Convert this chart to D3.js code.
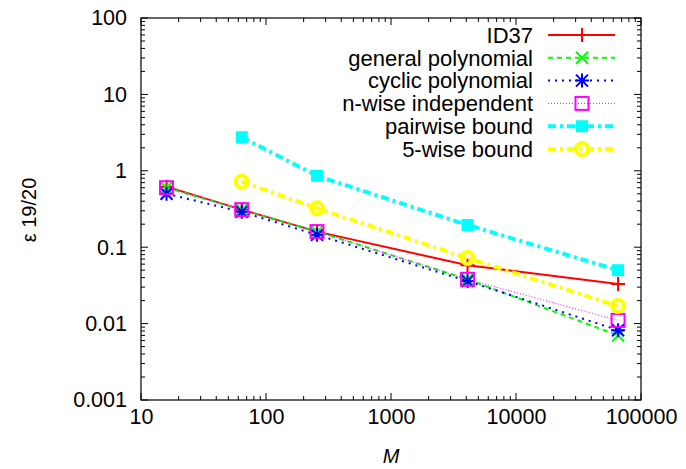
<!DOCTYPE html>
<html><head><meta charset="utf-8">
<script src="https://cdn.jsdelivr.net/npm/d3@7"></script>
<style>body{margin:0;background:#fff}svg{display:block}text{font-family:"Liberation Sans",Arial,sans-serif}</style>
</head><body><svg id="c" width="686" height="469"></svg>
<script>
const M = [16, 64, 256, 4096, 65536];
const id37 = [0.62, 0.31, 0.16, 0.058, 0.033];
const generalPoly = [0.6, 0.31, 0.16, 0.038, 0.007];
const cyclicPoly = [0.5, 0.29, 0.145, 0.036, 0.0082];
const nwise = [0.6, 0.31, 0.16, 0.038, 0.011];
const pairwise = [null, 2.75, 0.86, 0.195, 0.05];
const fivewise = [null, 0.72, 0.323, 0.072, 0.017];
const xTicks = [10, 100, 1000, 10000, 100000];
const yTicks = [0.001, 0.01, 0.1, 1, 10, 100];
const seriesNames = ["ID37","general polynomial","cyclic polynomial","n-wise independent","pairwise bound","5-wise bound"];

const series = [
 {name:seriesNames[0], v:id37, color:"#ff0000", w:2, dash:null, marker:"plus"},
 {name:seriesNames[1], v:generalPoly, color:"#00ff00", w:2, dash:"5,4", marker:"x"},
 {name:seriesNames[2], v:cyclicPoly, color:"#0000ff", w:2, dash:"2,5", marker:"star"},
 {name:seriesNames[3], v:nwise, color:"#ff00ff", w:1, dash:"1,2", marker:"sq"},
 {name:seriesNames[4], v:pairwise, color:"#00ffff", w:4, dash:"8,4,3,4", marker:"fsq"},
 {name:seriesNames[5], v:fivewise, color:"#ffff00", w:4, dash:"8,4,3,4", marker:"circ"}
];

const L=141, R=641, T=18, B=400;
const x = d3.scaleLog().domain([10,100000]).range([L,R]);
const y = d3.scaleLog().domain([0.001,100]).range([B,T]);
const svg = d3.select("#c");

function minors(dom){const out=[];for(let e=Math.log10(dom[0]);e<Math.log10(dom[1]);e++){for(let k=2;k<=9;k++)out.push(k*Math.pow(10,e));}return out;}
const g = svg.append("g");
const tx = minors([10,100000]), ty = minors([0.001,100]);
tx.forEach(v=>{const p=x(v);g.append("line").attr("x1",p).attr("x2",p).attr("y1",B).attr("y2",B-4);g.append("line").attr("x1",p).attr("x2",p).attr("y1",T).attr("y2",T+4);});
xTicks.forEach(v=>{const p=x(v);g.append("line").attr("x1",p).attr("x2",p).attr("y1",B).attr("y2",B-7);g.append("line").attr("x1",p).attr("x2",p).attr("y1",T).attr("y2",T+7);});
ty.forEach(v=>{const p=y(v);g.append("line").attr("y1",p).attr("y2",p).attr("x1",L).attr("x2",L+4);g.append("line").attr("y1",p).attr("y2",p).attr("x1",R).attr("x2",R-4);});
yTicks.forEach(v=>{const p=y(v);g.append("line").attr("y1",p).attr("y2",p).attr("x1",L).attr("x2",L+7);g.append("line").attr("y1",p).attr("y2",p).attr("x1",R).attr("x2",R-7);});
g.selectAll("line").attr("stroke","#000").attr("stroke-width",1);

const xa = svg.append("g").attr("transform",`translate(0,${B})`).call(d3.axisBottom(x).tickValues(xTicks).tickFormat(d3.format("d")).tickSize(0).tickPadding(9));
const ya = svg.append("g").attr("transform",`translate(${L},0)`).call(d3.axisLeft(y).tickValues(yTicks).tickFormat(d=>String(d)).tickSize(0).tickPadding(14));
[xa,ya].forEach(a=>{a.select(".domain").remove();a.selectAll("text").attr("font-size",21.5).attr("fill","#000").attr("font-family","Liberation Sans, Arial, sans-serif");});

svg.append("rect").attr("x",L).attr("y",T).attr("width",R-L).attr("height",B-T).attr("fill","none").attr("stroke","#000").attr("stroke-width",1.2);

svg.append("text").attr("x",391).attr("y",463).attr("text-anchor","middle").attr("font-family","Liberation Serif, Times New Roman, serif").attr("font-style","italic").attr("font-size",20).text("M");
svg.append("text").attr("transform","translate(36,210) rotate(-90)").attr("text-anchor","middle").attr("font-size",20).text("ε 19/20");

function marker(sel, type, color, cx, cy){
  const s=sel.append("g").attr("transform",`translate(${cx},${cy})`);
  if(type==="plus"){s.append("path").attr("d","M-7,0H7M0,-7V7").attr("stroke",color).attr("stroke-width",2);}
  if(type==="x"){s.append("path").attr("d","M-6,-6L6,6M-6,6L6,-6").attr("stroke",color).attr("stroke-width",2);}
  if(type==="star"){s.append("path").attr("d","M-7,0H7M0,-7V7M-6,-6L6,6M-6,6L6,-6").attr("stroke",color).attr("stroke-width",2);}
  if(type==="sq"){s.append("rect").attr("x",-6.5).attr("y",-6.5).attr("width",13).attr("height",13).attr("fill","none").attr("stroke",color).attr("stroke-width",2);}
  if(type==="fsq"){s.append("rect").attr("x",-6).attr("y",-6).attr("width",12).attr("height",12).attr("fill",color);}
  if(type==="circ"){s.append("circle").attr("r",6).attr("fill","none").attr("stroke",color).attr("stroke-width",4);s.append("circle").attr("r",1).attr("fill",color);}
}

const plot = svg.append("g");
series.forEach(s=>{
  const pts = M.map((m,i)=>[m,s.v[i]]).filter(d=>d[1]!=null);
  const line = d3.line().x(d=>x(d[0])).y(d=>y(d[1]));
  plot.append("path").attr("d",line(pts)).attr("fill","none").attr("stroke",s.color).attr("stroke-width",s.w).attr("stroke-dasharray",s.dash);
  pts.forEach(d=>marker(plot,s.marker,s.color,x(d[0]),y(d[1])));
});

const lg = svg.append("g");
series.forEach((s,i)=>{
  const yy = 35 + i*22.8;
  lg.append("text").attr("x",533).attr("y",yy).attr("dy","0.35em").attr("text-anchor","end").attr("font-size",22).text(s.name);
  lg.append("line").attr("x1",548).attr("x2",615).attr("y1",yy).attr("y2",yy).attr("stroke",s.color).attr("stroke-width",s.w).attr("stroke-dasharray",s.dash);
  marker(lg,s.marker,s.color,582,yy);
});
</script></body></html>
